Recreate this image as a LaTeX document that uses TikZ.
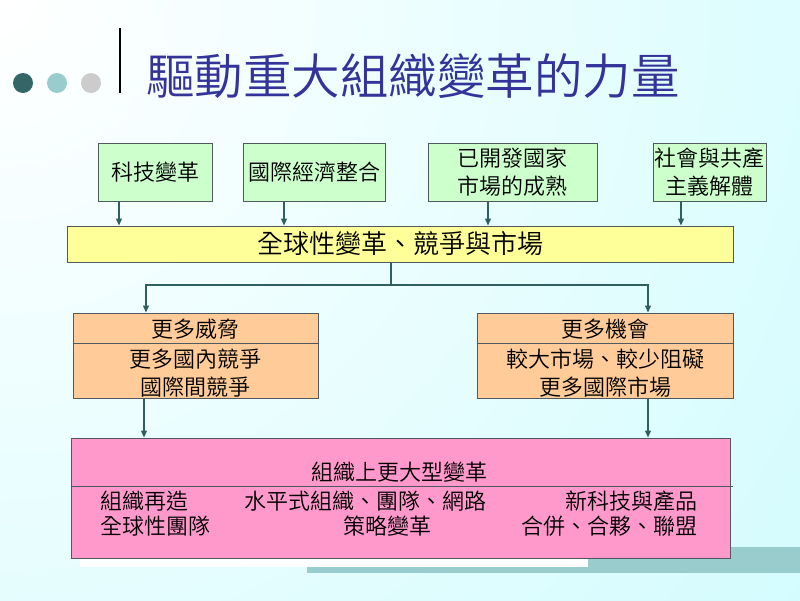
\documentclass[tikz,border=0pt]{standalone}
\usepackage{fontspec}
\setmainfont{Noto Sans CJK TC DemiLight}
\usetikzlibrary{arrows.meta}
\definecolor{bgc}{RGB}{212,252,254}
\definecolor{bordc}{RGB}{80,88,96}
\definecolor{arrc}{RGB}{47,95,95}
\definecolor{gfill}{RGB}{204,255,204}
\definecolor{yfill}{RGB}{255,255,153}
\definecolor{ofill}{RGB}{255,204,153}
\definecolor{pfill}{RGB}{255,153,204}
\definecolor{titlec}{RGB}{51,51,153}
\definecolor{dotA}{RGB}{51,102,102}
\definecolor{dotB}{RGB}{153,204,204}
\definecolor{dotC}{RGB}{204,204,204}
\definecolor{barc}{RGB}{153,204,204}
\begin{document}
\begin{tikzpicture}[x=1pt,y=-1pt,
  box/.style={draw=bordc, line width=1pt, inner sep=0pt, align=center, font=\fontsize{22}{28}\selectfont},
  gbox/.style={box, fill=gfill},
  ybox/.style={box, fill=yfill, font=\fontsize{26}{30}\selectfont},
  obox/.style={box, fill=ofill},
  pbox/.style={box, fill=pfill},
  txt/.style={inner sep=0pt, align=center, font=\fontsize{22}{28}\selectfont},
  arr/.style={draw=arrc, line width=1.3pt, -{Triangle[length=7pt,width=6pt]}},
  divline/.style={draw=bordc, line width=1pt}]
\useasboundingbox (0,0) rectangle (800,600);
% background
\fill[bgc] (0,0) rectangle (800,600);
\begin{scope}
\clip (0,0) rectangle (800,600);
\shade[inner color=white, outer color=bgc] (0,0) circle (1000pt);
\end{scope}
% decorative bars
\fill[barc] (307,547) rectangle (800,573);
\fill[white] (80,559) rectangle (588,567);
% title area
\fill[dotA] (23,83) circle (10pt);
\fill[dotB] (57,83) circle (10pt);
\fill[dotC] (91,83) circle (10pt);
\draw[line width=2pt, black] (120,28) -- (120,93);
\node[anchor=west, inner sep=0pt, text=titlec, font=\fontsize{48.5}{52}\selectfont] (title) at (146,76) {驅動重大組織變革的力量};
% top boxes
\node[gbox, minimum width=114pt, minimum height=58pt] (b1) at (155,172) {科技變革};
\node[gbox, minimum width=142pt, minimum height=58pt] (b2) at (314,172) {國際經濟整合};
\node[gbox, minimum width=169pt, minimum height=58pt] (b3) at (512.5,172) {已開發國家\\市場的成熟};
\node[gbox, minimum width=113pt, minimum height=58pt] (b4) at (709.5,172) {社會與共產\\主義解體};
% yellow
\node[ybox, minimum width=666pt, minimum height=36pt] (y) at (400,244) {全球性變革、競爭與市場};
% arrows into yellow
\draw[arr] (b1.south -| 119,0) -- (y.north -| 119,0);
\draw[arr] (b2.south -| 284,0) -- (y.north -| 284,0);
\draw[arr] (b3.south -| 488,0) -- (y.north -| 488,0);
\draw[arr] (b4.south -| 681,0) -- (y.north -| 681,0);
% orange boxes
\node[obox, minimum width=245pt, minimum height=85pt] (o1) at (195.5,355.5) {};
\node[obox, minimum width=256pt, minimum height=85pt] (o2) at (605,355.5) {};
\draw[divline] (o1.west |- 0,343) -- (o1.east |- 0,343);
\draw[divline] (o2.west |- 0,343) -- (o2.east |- 0,343);
\node[txt] (o1a) at (195.5,329) {更多威脅};
\node[txt] (o1b) at (195.5,373) {更多國內競爭\\國際間競爭};
\node[txt] (o2a) at (605,329) {更多機會};
\node[txt] (o2b) at (605,373) {較大市場、較少阻礙\\更多國際市場};
% branching connector
\coordinate (split) at (391,285);
\draw[arr] (y.south -| split) -- (split) -| (o1.north -| 146,0);
\draw[arr] (split) -| (o2.north -| 648,0);
% pink box
\node[pbox, minimum width=659pt, minimum height=120pt] (p) at (400.5,498) {};
\draw[divline] (p.west |- 0,486) -- (733,486);
\draw[arr] (o1.south -| 144,0) -- (p.north -| 144,0);
\draw[arr] (o2.south -| 648,0) -- (p.north -| 648,0);
\node[txt] (pt) at (399,472) {組織上更大型變革};
\node[txt, anchor=west] (p1a) at (100,501) {組織再造};
\node[txt, anchor=west] (p1b) at (244,501) {水平式組織、團隊、網路};
\node[txt, anchor=east] (p1c) at (698,501) {新科技與產品};
\node[txt, anchor=west] (p2a) at (100,526) {全球性團隊};
\node[txt, anchor=west] (p2b) at (343,526) {策略變革};
\node[txt, anchor=east] (p2c) at (698,526) {合併、合夥、聯盟};
\end{tikzpicture}
\end{document}
